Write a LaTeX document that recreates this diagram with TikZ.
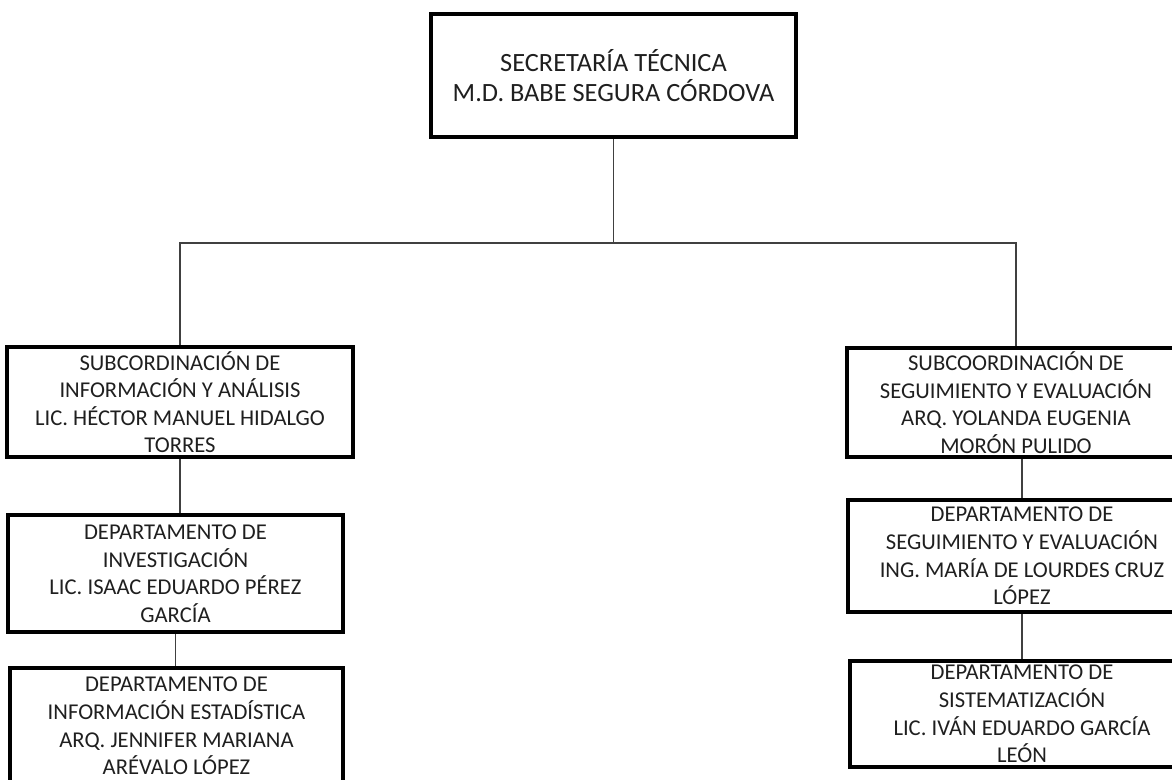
\documentclass[tikz,border=0pt]{standalone}
\usepackage{fontspec}
\setmainfont{Carlito}
\usetikzlibrary{positioning}
\tikzset{
  cargo/.style={draw=black, line width=3.5pt, text=black!88, align=center, inner sep=0pt,
    font=\fontsize{19.3}{23.5}\selectfont},
  titular/.style={cargo, line width=4.2pt, font=\fontsize{22.5}{26}\selectfont},
  enlace/.style={line width=1.2pt, black!75}
}
\begin{document}
\begin{tikzpicture}[x=0.03cm,y=-0.03cm]
				\useasboundingbox (0,0) rectangle (1172,779);
				\node[titular,minimum width=10.95cm,minimum height=3.69cm] (sec) at (613.5,75.5) {SECRETARÍA TÉCNICA\\M.D. BABE SEGURA CÓRDOVA};
				\node[cargo,minimum width=10.38cm,minimum height=3.3cm] (subA) at (180,402) {SUBCORDINACIÓN DE\\INFORMACIÓN Y ANÁLISIS\\LIC. HÉCTOR MANUEL HIDALGO\\TORRES};
				\node[cargo,minimum width=10.05cm,minimum height=3.51cm] (depInv) at (175.5,573.5) {DEPARTAMENTO DE\\INVESTIGACIÓN\\LIC. ISAAC EDUARDO PÉREZ\\GARCÍA};
				\node[cargo,minimum width=9.99cm,minimum height=3.48cm] (depEst) at (176.5,726) {DEPARTAMENTO DE\\INFORMACIÓN ESTADÍSTICA\\ARQ. JENNIFER MARIANA\\ARÉVALO LÓPEZ};
				\node[cargo,minimum width=10.14cm,minimum height=3.27cm] (subB) at (1016,402.5) {SUBCOORDINACIÓN DE\\SEGUIMIENTO Y EVALUACIÓN\\ARQ. YOLANDA EUGENIA\\MORÓN PULIDO};
				\node[cargo,minimum width=10.44cm,minimum height=3.36cm] (depSeg) at (1022,556) {DEPARTAMENTO DE\\SEGUIMIENTO Y EVALUACIÓN\\ING. MARÍA DE LOURDES CRUZ\\LÓPEZ};
				\node[cargo,minimum width=10.32cm,minimum height=3.18cm] (depSis) at (1022,714) {DEPARTAMENTO DE\\SISTEMATIZACIÓN\\LIC. IVÁN EDUARDO GARCÍA\\LEÓN};
				\coordinate (barra) at (613.5,243);
				\draw[enlace] (sec.south) -- (barra);
				\draw[enlace] (subA.north) |- (barra) -| (subB.north);
				\draw[enlace] (subA.south) -- (subA.south |- depInv.north);
				\draw[enlace] (depInv.south) -- (depInv.south |- depEst.north);
				\draw[enlace] (depSeg.north) -- (depSeg.north |- subB.south);
				\draw[enlace] (depSeg.south) -- (depSeg.south |- depSis.north);
			\end{tikzpicture}
\end{document}
